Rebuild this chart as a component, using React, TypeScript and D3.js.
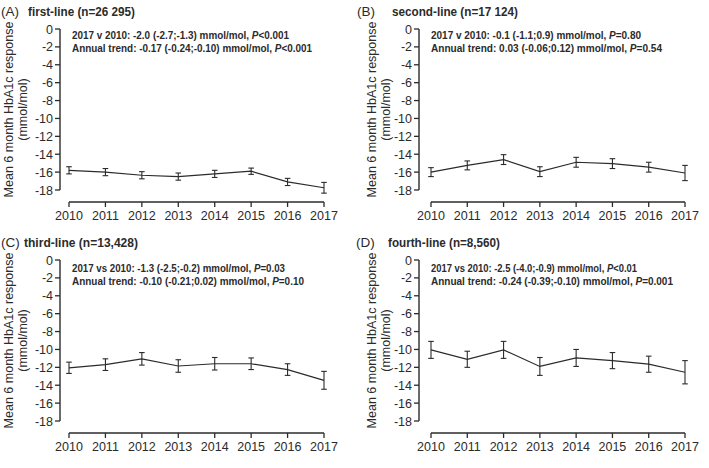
import React from "react";
import * as d3 from "d3";

const years = ["2010", "2011", "2012", "2013", "2014", "2015", "2016", "2017"];
const yTicks = [0, -2, -4, -6, -8, -10, -12, -14, -16, -18];

const firstLineMean = [-15.8, -16.0, -16.35, -16.5, -16.2, -15.9, -17.1, -17.75];
const firstLineErr = [0.4, 0.4, 0.4, 0.4, 0.4, 0.35, 0.4, 0.6];
const secondLineMean = [-16.0, -15.25, -14.6, -15.95, -14.9, -15.05, -15.45, -16.1];
const secondLineErr = [0.5, 0.5, 0.55, 0.55, 0.55, 0.55, 0.55, 0.85];
const thirdLineMean = [-12.05, -11.7, -11.05, -11.85, -11.6, -11.6, -12.25, -13.45];
const thirdLineErr = [0.63, 0.65, 0.7, 0.7, 0.7, 0.65, 0.65, 1.0];
const fourthLineMean = [-10.05, -11.1, -10.05, -11.9, -10.95, -11.25, -11.65, -12.55];
const fourthLineErr = [0.95, 0.9, 0.95, 1.0, 0.95, 0.9, 0.9, 1.3];

const panelLetters = ["(A)", "(B)", "(C)", "(D)"];
const panelTitles = [
  "first-line (n=26 295)",
  "second-line (n=17 124)",
  "third-line (n=13,428)",
  "fourth-line (n=8,560)",
];
const comparisonPrefix = [
  "2017 v 2010: -2.0 (-2.7;-1.3) mmol/mol, ",
  "2017 v 2010: -0.1 (-1.1;0.9) mmol/mol, ",
  "2017 vs 2010: -1.3 (-2.5;-0.2) mmol/mol, ",
  "2017 vs 2010: -2.5 (-4.0;-0.9) mmol/mol, ",
];
const comparisonP = ["<0.001", "=0.80", "=0.03", "<0.01"];
const trendPrefix = [
  "Annual trend: -0.17 (-0.24;-0.10) mmol/mol, ",
  "Annual trend: 0.03 (-0.06;0.12) mmol/mol, ",
  "Annual trend: -0.10 (-0.21;0.02) mmol/mol, ",
  "Annual trend: -0.24 (-0.39;-0.10) mmol/mol,  ",
];
const trendP = ["<0.001", "=0.54", "=0.10", "=0.001"];
const yLabel1 = "Mean 6 month HbA1c response";
const yLabel2 = "(mmol/mol)";

const means = [firstLineMean, secondLineMean, thirdLineMean, fourthLineMean];
const errs = [firstLineErr, secondLineErr, thirdLineErr, fourthLineErr];

// layout (pixels)
const layout = [
  { axisX: 60, y0: 29, y18: 190, xAxisY: 202, xL: 69, xR: 324, titleY: 16, letterX: 1, titleX: 28, titleW: 107, t1Y: 39, t2Y: 51.5, t1W: 217, t2W: 240, labX: 8 },
  { axisX: 419, y0: 29, y18: 190, xAxisY: 202, xL: 431, xR: 685, titleY: 16, letterX: 357, titleX: 392, titleW: 126, t1Y: 39, t2Y: 51.5, t1W: 210, t2W: 231, labX: 371 },
  { axisX: 60, y0: 260, y18: 421, xAxisY: 433, xL: 69, xR: 324, titleY: 247, letterX: 1, titleX: 24, titleW: 114, t1Y: 272, t2Y: 285, t1W: 213, t2W: 232, labX: 8 },
  { axisX: 419, y0: 260, y18: 421, xAxisY: 433, xL: 431, xR: 685, titleY: 247, letterX: 356, titleX: 388, titleW: 112, t1Y: 272, t2Y: 285, t1W: 206, t2W: 242, labX: 371 },
];

const FONT = "'Liberation Sans', Arial, Helvetica, sans-serif";
const INK = "#2b2b2b";

function Panel({ i }: { i: number }) {
  const L = layout[i];
  const y = d3.scaleLinear().domain([0, -18]).range([L.y0, L.y18]);
  const x = d3.scalePoint<string>().domain(years).range([L.xL, L.xR]);
  const m = means[i];
  const e = errs[i];
  const line = d3
    .line<number>()
    .x((_, k) => x(years[k]) as number)
    .y((v) => y(v));
  const midY = (L.y0 + L.y18) / 2;
  return (
    <g fontFamily={FONT} fill={INK}>
      <text x={L.letterX} y={L.titleY} fontSize={13.5}>
        {panelLetters[i]}
      </text>
      <text x={L.titleX} y={L.titleY} fontSize={13} fontWeight="bold" textLength={L.titleW} lengthAdjust="spacingAndGlyphs">
        {panelTitles[i]}
      </text>
      <text x={L.axisX + 12} y={L.t1Y} fontSize={11} fontWeight="bold" textLength={L.t1W} lengthAdjust="spacingAndGlyphs">
        {comparisonPrefix[i]}
        <tspan fontStyle="italic">P</tspan>
        {comparisonP[i]}
      </text>
      <text x={L.axisX + 12} y={L.t2Y} fontSize={11} fontWeight="bold" textLength={L.t2W} lengthAdjust="spacingAndGlyphs">
        {trendPrefix[i]}
        <tspan fontStyle="italic">P</tspan>
        {trendP[i]}
      </text>
      <g transform={`translate(${L.labX},${midY}) rotate(-90)`} fontSize={12.5} textAnchor="middle">
        <text x={0} y={5}>{yLabel1}</text>
        <text x={0} y={19}>{yLabel2}</text>
      </g>
      {/* y axis */}
      <line x1={L.axisX} x2={L.axisX} y1={y(0)} y2={y(-18)} stroke={INK} strokeWidth={1.4} />
      {yTicks.map((t) => (
        <g key={t}>
          <line x1={L.axisX - 5} x2={L.axisX} y1={y(t)} y2={y(t)} stroke={INK} strokeWidth={1.3} />
          <text x={L.axisX - 7} y={y(t) + 4.5} fontSize={12.5} textAnchor="end">
            {t}
          </text>
        </g>
      ))}
      {/* x axis */}
      <line x1={L.xL} x2={L.xR} y1={L.xAxisY} y2={L.xAxisY} stroke={INK} strokeWidth={1.4} />
      {years.map((yr) => (
        <g key={yr}>
          <line x1={x(yr)} x2={x(yr)} y1={L.xAxisY} y2={L.xAxisY + 5} stroke={INK} strokeWidth={1.3} />
          <text x={x(yr)} y={L.xAxisY + 17.5} fontSize={12.5} textAnchor="middle">
            {yr}
          </text>
        </g>
      ))}
      {/* data line */}
      <path d={line(m) || ""} fill="none" stroke={INK} strokeWidth={1.2} />
      {m.map((v, k) => {
        const cx = x(years[k]) as number;
        const top = y(v + e[k]);
        const bot = y(v - e[k]);
        return (
          <g key={k} stroke={INK} strokeWidth={1.1}>
            <line x1={cx} x2={cx} y1={top} y2={bot} />
            <line x1={cx - 2.8} x2={cx + 2.8} y1={top} y2={top} />
            <line x1={cx - 2.8} x2={cx + 2.8} y1={bot} y2={bot} />
          </g>
        );
      })}
    </g>
  );
}

export default function App() {
  return (
    <svg width={709} height={468} style={{ display: "block", position: "absolute", left: 0, top: 0, background: "#fff" }}>
      <rect width={709} height={468} fill="#fff" />
      {[0, 1, 2, 3].map((i) => (
        <Panel key={i} i={i} />
      ))}
    </svg>
  );
}
